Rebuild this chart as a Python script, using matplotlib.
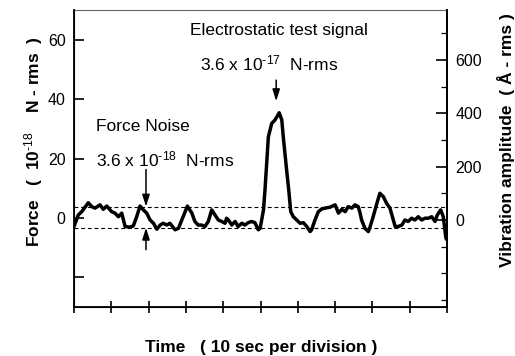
import numpy as np
import matplotlib
matplotlib.use("Agg")
import matplotlib.pyplot as plt
from matplotlib.ticker import FixedLocator, MultipleLocator

plt.rcParams['font.family'] = ['Liberation Sans', 'DejaVu Sans']
plt.rcParams['mathtext.fontset'] = 'custom'
plt.rcParams['mathtext.rm'] = 'Liberation Sans'
plt.rcParams['mathtext.it'] = 'Liberation Sans:italic'
plt.rcParams['mathtext.bf'] = 'Liberation Sans:bold'
plt.rcParams['mathtext.default'] = 'regular'
plt.rcParams['axes.unicode_minus'] = False

# ---- data ----
time_s = [0, 1.15, 2.06, 3.83, 4.75, 5.63, 6.97, 7.86, 8.77, 10.1,
          11.0, 11.9, 12.8, 13.7, 15.0, 15.9, 16.8, 17.7, 18.6, 19.5,
          20.4, 21.3, 22.2, 23.1, 23.9, 24.9, 25.7, 27.1, 28.0, 28.9,
          29.8, 30.4, 31.6, 32.4, 33.3, 34.2, 35.1, 36.0, 36.9, 37.8,
          38.7, 39.6, 40.5, 40.9, 41.4, 42.3, 43.2, 44.0, 45.0, 45.8,
          46.7, 47.6, 48.5, 49.4, 49.9, 50.8, 51.2, 52.1, 53.0, 53.9,
          55.0, 55.7, 56.1, 57.0, 57.6, 58.1, 58.8, 59.7, 60.6, 61.5,
          62.4, 63.3, 63.7, 64.6, 65.5, 66.4, 67.3, 68.6, 70.0, 70.9,
          71.8, 72.7, 73.5, 74.5, 75.3, 76.2, 76.7, 77.1, 78.0, 78.9,
          79.4, 80.2, 81.2, 82.0, 82.9, 83.8, 84.7, 85.6, 86.1, 86.9,
          87.9, 88.7, 89.6, 90.5, 91.4, 92.3, 93.2, 94.1, 95.0, 95.9,
          96.8, 97.4, 98.3, 99.0, 99.7, 100]
force = [-2.9, 1.0, 2.1, 5.1, 3.8, 3.3, 4.4, 2.9, 4.0, 2.1,
         1.6, 0.4, 1.6, -2.9, -3.1, -2.7, 0.4, 4.0, 2.7, 1.6,
         -0.7, -1.8, -3.8, -2.4, -1.8, -2.4, -1.8, -4.0, -3.5, -0.7,
         2.1, 4.0, 1.6, -1.2, -2.4, -2.4, -2.9, -1.2, 2.7, 1.0,
         -0.7, -1.2, -1.8, -0.1, -0.7, -2.4, -1.2, -2.9, -1.8, -2.4,
         -1.6, -1.2, -1.6, -4.0, -3.5, 2.7, 9.4, 27.3, 31.8, 33.0,
         35.4, 33.0, 27.3, 16.1, 9.0, 2.1, 0.4, -0.7, -1.8, -1.6,
         -2.9, -4.6, -4.0, -0.7, 2.1, 3.0, 3.3, 3.6, 4.4, 1.6,
         2.9, 2.1, 3.8, 3.3, 4.4, 3.8, 1.6, -0.7, -3.5, -4.6,
         -2.9, 0.4, 4.9, 8.3, 7.2, 4.9, 3.3, -0.7, -2.9, -2.9,
         -2.4, -0.7, -1.2, -0.1, -0.7, 0.4, -0.7, -0.1, -0.1, 0.4,
         -1.2, 1.0, 2.7, 0.4, -6.8, -7.4]

noise_band = [-3.3, 3.6]           # dashed noise limits (force units)
force_ticks = [-20, 0, 20, 40, 60]
force_ticklabels = ['', '0', '20', '40', '60']
amp_ticks = [0, 200, 400, 600]
amp_ticklabels = ['0', '200', '400', '600']
time_ticks = list(range(0, 101, 10))

fig = plt.figure(figsize=(5.15, 3.56), dpi=100)
ax = fig.add_axes([0.1437, 0.1376, 0.7243, 0.8343])

ax.plot(time_s, force, color='black', lw=2.5, solid_joinstyle='round',
        solid_capstyle='round')
for yb in noise_band:
    ax.axhline(yb, color='black', lw=0.8, ls=(0, (3.5, 2.5)))

ax.set_xlim(0, 100)
ax.set_ylim(-30, 70)
ax.set_xticks(time_ticks)
ax.set_xticklabels([])
ax.set_yticks(force_ticks)
ax.set_yticklabels(force_ticklabels)
ax.tick_params(axis='x', direction='inout', length=8, width=1.2, top=False)
ax.tick_params(axis='y', direction='in', length=7, width=1.2, labelsize=11.5, pad=6)

for s in ['left', 'bottom', 'right']:
    ax.spines[s].set_linewidth(1.3)
ax.spines['top'].set_linewidth(0.8)
ax.spines['top'].set_color('#666666')

ax2 = ax.twinx()
ax2.set_ylim(-326, 787)
ax2.yaxis.set_major_locator(FixedLocator(amp_ticks))
ax2.set_yticklabels(amp_ticklabels)
ax2.yaxis.set_minor_locator(MultipleLocator(100))
ax2.tick_params(axis='y', which='major', direction='in', length=8, width=1.2,
                labelsize=11.5, pad=6)
ax2.tick_params(axis='y', which='minor', direction='in', length=4, width=0.9)
ax2.spines['right'].set_linewidth(1.3)
ax2.spines['top'].set_visible(False)

ax.set_xlabel('Time   ( 10 sec per division )', fontsize=12.5, fontweight='bold')
ax.xaxis.set_label_coords(0.501, -0.135)
ax.xaxis.label.set_va('center')
ax.set_ylabel(r'Force   (  10$^{\mathbf{\text{-18}}}$    N - rms  )', fontsize=12.5,
              fontweight='bold')
ax.yaxis.set_label_coords(-0.108, 0.557)
ax.yaxis.label.set_va('center')
ax2.set_ylabel('Vibration amplitude  ( Å - rms )', fontsize=12.5,
               fontweight='bold', rotation=90)
ax2.yaxis.set_label_coords(1.158, 0.562)
ax2.yaxis.label.set_va('center')

ax.text(31.1, 61.6, 'Electrostatic test signal', fontsize=12.5, va='baseline')
ax.text(33.8, 49.8, r'3.6 x 10$^{\text{-17}}$  N-rms', fontsize=12.5, va='baseline')
ax.text(5.9, 29.2, 'Force Noise', fontsize=12.5, va='baseline')
ax.text(5.9, 17.3, r'3.6 x 10$^{\text{-18}}$  N-rms', fontsize=12.5, va='baseline')

arrow_kw = dict(arrowstyle='-|>,head_length=0.7,head_width=0.22', color='black',
                lw=1.1, shrinkA=0, shrinkB=0)
ax.annotate('', xy=(54.2, 39.3), xytext=(54.2, 46.4), arrowprops=arrow_kw)
ax.annotate('', xy=(19.3, 3.8), xytext=(19.3, 16.3), arrowprops=arrow_kw)
ax.annotate('', xy=(19.3, -3.3), xytext=(19.3, -10.7), arrowprops=arrow_kw)

fig.savefig('out.png', dpi=100)
